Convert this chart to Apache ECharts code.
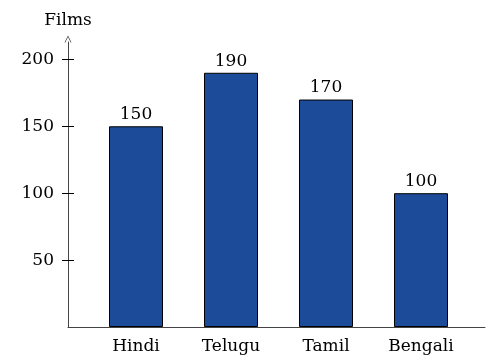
<!DOCTYPE html>
<html>
<head>
<meta charset="utf-8">
<script src="https://cdn.jsdelivr.net/npm/echarts@6/dist/echarts.min.js"></script>
<style>
html, body { margin: 0; padding: 0; background: #fff; }
#chart { width: 496px; height: 363px; }
</style>
</head>
<body>
<div id="chart"></div>
<script>
var languages = ['Hindi', 'Telugu', 'Tamil', 'Bengali'];
var films = [150, 190, 170, 100];
var yTicks = [50, 100, 150, 200];

var font = 'DejaVu Serif';
var axisColor = '#444444';
var chevron = 'path://M0,10 L5,0 L10,10 L8.8,10 L5,2.2 L1.2,10 Z';

var myChart = echarts.init(document.getElementById('chart'));
var option = {
	animation : false,
	textStyle : { fontFamily : font },
	grid : [ {
		left : 88.5,
		right : 27.5,
		top : 42,
		bottom : 36
	}, {
		left : 68,
		right : 11,
		top : 42,
		bottom : 36
	} ],
	xAxis : [ {
		type : 'category',
		gridIndex : 0,
		data : languages,
		axisLine : { show : false },
		axisTick : { show : false },
		axisLabel : {
			color : '#000',
			fontFamily : font,
			fontSize : 17,
			margin : 11
		}
	}, {
		type : 'value',
		gridIndex : 1,
		min : 0,
		max : 1,
		axisLine : { show : true, lineStyle : { color : axisColor, width : 1 } },
		axisTick : { show : false },
		axisLabel : { show : false },
		splitLine : { show : false }
	} ],
	yAxis : [ {
		// ticks cross the axis line: drawn outward from 6px right of it
		type : 'value',
		gridIndex : 0,
		position : 'left',
		min : 0,
		max : 213,
		offset : 14.5,
		axisLine : { show : false },
		axisTick : { show : true, inside : false, length : 12, customValues : yTicks, lineStyle : { color : '#000' } },
		axisLabel : { color : '#000', fontFamily : font, fontSize : 17, margin : 20, customValues : yTicks },
		splitLine : { show : false }
	}, {
		type : 'value',
		gridIndex : 1,
		position : 'left',
		min : 0,
		max : 213,
		name : 'Films',
		nameLocation : 'end',
		nameGap : 13,
		nameTextStyle : { color : '#000', fontFamily : font, fontSize : 17, align : 'center' },
		axisLine : {
			show : true,
			symbol : [ 'none', chevron ],
			symbolSize : [ 10, 7 ],
			symbolOffset : [ 0, 3 ],
			lineStyle : { color : axisColor, width : 1 }
		},
		axisTick : { show : false },
		axisLabel : { show : false },
		splitLine : { show : false }
	} ],
	series : [ {
		type : 'bar',
		xAxisIndex : 0,
		yAxisIndex : 0,
		data : films,
		barWidth : 54,
		itemStyle : { color : '#1c4b99', borderColor : '#000', borderWidth : 1 },
		label : {
			show : true,
			position : 'top',
			distance : 3,
			color : '#000',
			fontFamily : font,
			fontSize : 17
		}
	}, {
		type : 'line',
		xAxisIndex : 1,
		yAxisIndex : 1,
		data : []
	} ]
};
myChart.setOption(option);
</script>
</body>
</html>
